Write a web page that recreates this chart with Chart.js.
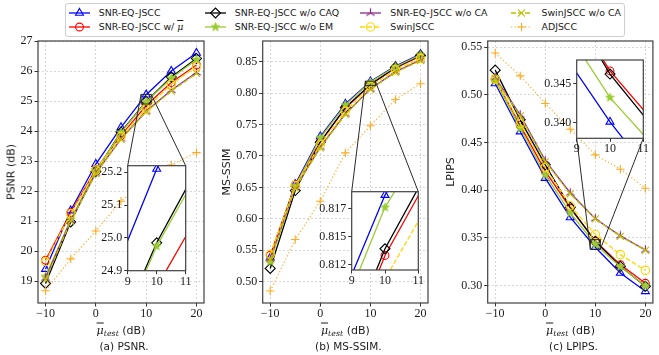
<!DOCTYPE html>
<html>
<head>
<meta charset="utf-8">
<script src="https://cdn.jsdelivr.net/npm/chart.js@4.4.1/dist/chart.umd.min.js"></script>
<style>
  html, body { margin:0; padding:0; background:#ffffff; }
  #wrap { position:relative; width:659px; height:355px; overflow:hidden; background:#fff; font-family:"DejaVu Sans", sans-serif; color:#1a1a1a; }
  #wrap canvas { position:absolute; }
  .txt { position:absolute; white-space:nowrap; line-height:1; z-index:6; }
  .legend { position:absolute; box-sizing:border-box; border:1px solid #cfcfcf; border-radius:3px; background:#fff; z-index:5; }
  .legtxt { position:absolute; white-space:nowrap; font-size:9.4px; line-height:12px; }
  .mu { font-family:"DejaVu Serif", serif; font-style:italic; text-decoration:overline; }
  .sub { font-family:"DejaVu Serif", serif; font-style:italic; font-size:0.72em; position:relative; top:0.3em; }
</style>
</head>
<body>
<div id="wrap"></div>
<script>
// ---------------- data ----------------
const snrTest = [-10, -5, 0, 5, 10, 15, 20];
const seriesNames = ['SNR-EQ-JSCC', 'SNR-EQ-JSCC w/ \u03bc\u0304', 'SNR-EQ-JSCC w/o CAQ', 'SNR-EQ-JSCC w/o EM',
                     'SNR-EQ-JSCC w/o CA', 'SwinJSCC', 'SwinJSCC w/o CA', 'ADJSCC'];

// PSNR (dB)
const psnrEQ       = [19.40, 21.35, 22.90, 24.12, 25.21, 26.00, 26.60];
const psnrMu       = [19.70, 21.28, 22.72, 23.85, 24.85, 25.62, 26.20];
const psnrNoCAQ    = [18.92, 20.97, 22.65, 23.97, 24.985, 25.80, 26.42];
const psnrNoEM     = [19.15, 21.05, 22.68, 23.95, 24.975, 25.76, 26.38];
const psnrNoCA     = [19.10, 21.02, 22.60, 23.74, 24.66, 25.36, 25.95];
const psnrSwin     = [19.65, 21.24, 22.70, 23.82, 24.74, 25.56, 26.15];
const psnrSwinNoCA = [19.05, 21.00, 22.58, 23.72, 24.64, 25.33, 25.92];
const psnrAD       = [18.68, 19.74, 20.67, 21.66, 22.35, 22.87, 23.28];

// MS-SSIM
const msssimEQ       = [0.538, 0.655, 0.731, 0.783, 0.8187, 0.843, 0.862];
const msssimMu       = [0.542, 0.654, 0.723, 0.776, 0.8133, 0.840, 0.859];
const msssimNoCAQ    = [0.521, 0.645, 0.722, 0.777, 0.8139, 0.841, 0.860];
const msssimNoEM     = [0.532, 0.652, 0.729, 0.781, 0.8176, 0.842, 0.861];
const msssimNoCA     = [0.536, 0.650, 0.714, 0.767, 0.8065, 0.834, 0.853];
const msssimSwin     = [0.543, 0.653, 0.718, 0.771, 0.8112, 0.837, 0.855];
const msssimSwinNoCA = [0.535, 0.649, 0.713, 0.766, 0.8060, 0.833, 0.852];
const msssimAD       = [0.485, 0.567, 0.628, 0.705, 0.748, 0.790, 0.815];

// LPIPS
const lpipsEQ       = [0.512, 0.4615, 0.4127, 0.3714, 0.3401, 0.313, 0.2938];
const lpipsMu       = [0.5165, 0.468, 0.420, 0.381, 0.3466, 0.3218, 0.3022];
const lpipsNoCAQ    = [0.526, 0.4738, 0.4266, 0.382, 0.3462, 0.320, 0.299];
const lpipsNoEM     = [0.515, 0.465, 0.416, 0.376, 0.3432, 0.3196, 0.2995];
const lpipsNoCA     = [0.518, 0.479, 0.431, 0.397, 0.370, 0.352, 0.3372];
const lpipsSwin     = [0.5165, 0.470, 0.4238, 0.3836, 0.3535, 0.3323, 0.3158];
const lpipsSwinNoCA = [0.517, 0.478, 0.430, 0.396, 0.3698, 0.3515, 0.3368];
const lpipsAD       = [0.544, 0.520, 0.491, 0.464, 0.437, 0.422, 0.402];

// axes / ticks
const xRange = [-11.5, 21.5];
const xTicks = [-10, 0, 10, 20];
const xTickLabels = ['\u221210', '0', '10', '20'];
const psnrRange = [18.27, 27.0];
const psnrTicks = [19, 20, 21, 22, 23, 24, 25, 26, 27];
const psnrTickLabels = ['19', '20', '21', '22', '23', '24', '25', '26', '27'];
const msssimRange = [0.466, 0.883];
const msssimTicks = [0.50, 0.55, 0.60, 0.65, 0.70, 0.75, 0.80, 0.85];
const msssimTickLabels = ['0.50', '0.55', '0.60', '0.65', '0.70', '0.75', '0.80', '0.85'];
const lpipsRange = [0.2815, 0.5566];
const lpipsTicks = [0.30, 0.35, 0.40, 0.45, 0.50, 0.55];
const lpipsTickLabels = ['0.30', '0.35', '0.40', '0.45', '0.50', '0.55'];

// insets
const insetXRange = [9, 11];
const insetXTicks = [9, 10, 11];
const insetXTickLabels = ['9', '10', '11'];
const psnrInsetRange = [24.9, 25.22];
const psnrInsetTicks = [24.9, 25.0, 25.1, 25.2];
const psnrInsetTickLabels = ['24.9', '25.0', '25.1', '25.2'];
const msssimInsetRange = [0.812, 0.819];
const msssimInsetTicks = [0.8125, 0.815, 0.8175];
const msssimInsetTickLabels = ['0.812', '0.815', '0.817'];
const lpipsInsetRange = [0.338, 0.348];
const lpipsInsetTicks = [0.340, 0.345];
const lpipsInsetTickLabels = ['0.340', '0.345'];

// ---------------- styles ----------------
function makeStar(color, R) {
  const s = 2 * Math.ceil(R) + 3;
  const c = document.createElement('canvas'); c.width = s; c.height = s;
  const g = c.getContext('2d'); g.translate(s / 2, s / 2);
  g.beginPath();
  for (let k = 0; k < 10; k++) {
    const r = (k % 2) ? R * 0.42 : R;
    const a = -Math.PI / 2 + k * Math.PI / 5;
    g.lineTo(r * Math.cos(a), r * Math.sin(a));
  }
  g.closePath(); g.fillStyle = color; g.fill(); g.strokeStyle = color; g.lineWidth = 0.8; g.stroke();
  return c;
}
function makeTri(color, R) {
  const s = 2 * Math.ceil(R) + 3;
  const c = document.createElement('canvas'); c.width = s; c.height = s;
  const g = c.getContext('2d'); g.translate(s / 2, s / 2);
  g.strokeStyle = color; g.lineWidth = 1.2; g.beginPath();
  g.moveTo(0, 0); g.lineTo(0, -R);
  g.moveTo(0, 0); g.lineTo(-0.866 * R, 0.5 * R);
  g.moveTo(0, 0); g.lineTo(0.866 * R, 0.5 * R);
  g.stroke();
  return c;
}
const seriesStyles = [
  { color: '#0000ff', point: 'triangle', r: 4.6, dash: [], width: 1.3 },
  { color: '#ff0000', point: 'circle', r: 3.9, dash: [], width: 1.3 },
  { color: '#000000', point: 'rectRot', r: 5, dash: [], width: 1.3 },
  { color: '#9acd32', point: makeStar('#9acd32', 4.6), r: 4, dash: [], width: 1.3 },
  { color: '#8a2b8a', point: makeTri('#8a2b8a', 4.8), r: 4, dash: [], width: 1.3 },
  { color: '#ffd700', point: 'circle', r: 4.2, dash: [5, 2], width: 1.3 },
  { color: '#bfbf00', point: 'crossRot', r: 5, dash: [5, 2], width: 1.3 },
  { color: '#ffaa22', point: 'cross', r: 4.2, dash: [1.3, 2.2], width: 1.1 }
];

function buildDatasets(seriesArrays) {
  return seriesArrays.map((arr, i) => {
    const st = seriesStyles[i];
    return {
      label: seriesNames[i],
      data: snrTest.map((x, k) => ({ x: x, y: arr[k] })),
      borderColor: st.color, borderWidth: st.width, borderDash: st.dash,
      backgroundColor: 'rgba(0,0,0,0)', fill: false, tension: 0,
      pointStyle: st.point, pointRadius: st.r, pointBorderColor: st.color,
      pointBackgroundColor: 'rgba(0,0,0,0)', pointBorderWidth: 1.1,
      order: seriesArrays.length - i
    };
  });
}

function axisOpts(range, ticks, labels, grid, isX, size, pad) {
  return {
    type: 'linear', bounds: 'data', min: range[0], max: range[1],
    afterBuildTicks: s => { s.ticks = ticks.map(v => ({ value: v })); },
    afterFit: s => { if (isX) s.height = size; else s.width = size; },
    grid: { display: true, drawOnChartArea: grid, color: '#cdcdcd', lineWidth: 0.8,
            drawTicks: true, tickLength: 3.5, tickColor: '#333333', tickWidth: 1 },
    border: { display: false, dash: [2, 2] },
    ticks: { autoSkip: false, maxRotation: 0, minRotation: 0, padding: pad, color: '#1a1a1a',
             font: { family: '"Liberation Serif", serif', size: 12 },
             callback: (v, i) => labels[i] }
  };
}

function makePanelPlugin(o) {
  return {
    id: 'panelDeco',
    beforeDraw(chart) {
      if (!o.whiteBg) return;
      const a = chart.chartArea, ctx = chart.ctx;
      ctx.save(); ctx.fillStyle = '#ffffff';
      ctx.fillRect(a.left, a.top, a.right - a.left, a.bottom - a.top); ctx.restore();
    },
    afterDatasetsDraw(chart) {
      if (!o.zoom) return;
      const ins = o.zoom.chart, ctx = chart.ctx;
      const sx = chart.scales.x, sy = chart.scales.y;
      const rx0 = sx.getPixelForValue(ins.scales.x.min), rx1 = sx.getPixelForValue(ins.scales.x.max);
      const ry0 = sy.getPixelForValue(ins.scales.y.max), ry1 = sy.getPixelForValue(ins.scales.y.min);
      const dx = o.zoom.canvas.x - o.canvas.x, dy = o.zoom.canvas.y - o.canvas.y;
      const ia = ins.chartArea;
      const pts = {
        tl: [[rx0, ry0], [ia.left + dx, ia.top + dy]],
        tr: [[rx1, ry0], [ia.right + dx, ia.top + dy]],
        bl: [[rx0, ry1], [ia.left + dx, ia.bottom + dy]],
        br: [[rx1, ry1], [ia.right + dx, ia.bottom + dy]]
      };
      ctx.save(); ctx.strokeStyle = '#2a2a2a'; ctx.lineWidth = 1; ctx.setLineDash([]);
      ctx.strokeRect(rx0, ry0, rx1 - rx0, ry1 - ry0);
      ctx.beginPath();
      o.zoom.corners.forEach(k => { ctx.moveTo(pts[k][0][0], pts[k][0][1]); ctx.lineTo(pts[k][1][0], pts[k][1][1]); });
      ctx.stroke(); ctx.restore();
    },
    afterDraw(chart) {
      const a = chart.chartArea, ctx = chart.ctx;
      ctx.save(); ctx.strokeStyle = '#404040'; ctx.lineWidth = 1.2; ctx.setLineDash([]);
      ctx.strokeRect(a.left, a.top, a.right - a.left, a.bottom - a.top); ctx.restore();
    }
  };
}

const wrap = document.getElementById('wrap');

function mkChart(o) {
  const c = document.createElement('canvas');
  c.width = o.canvas.w; c.height = o.canvas.h;
  Object.assign(c.style, { left: o.canvas.x + 'px', top: o.canvas.y + 'px',
    width: o.canvas.w + 'px', height: o.canvas.h + 'px', zIndex: o.z });
  wrap.appendChild(c);
  const pad = {
    left: o.area.l - o.canvas.x - o.yW,
    right: o.canvas.x + o.canvas.w - o.area.r,
    top: o.area.t - o.canvas.y,
    bottom: o.canvas.y + o.canvas.h - o.area.b - o.xH
  };
  return new Chart(c, {
    type: 'line',
    data: { datasets: buildDatasets(o.series) },
    options: {
      responsive: false, maintainAspectRatio: false, animation: false, events: [], devicePixelRatio: 1,
      layout: { padding: pad },
      plugins: { legend: { display: false }, tooltip: { enabled: false }, title: { display: false } },
      scales: {
        x: axisOpts(o.xRange, o.xTicks, o.xLabels, o.grid, true, o.xH, o.xPad),
        y: axisOpts(o.yRange, o.yTicks, o.yLabels, o.grid, false, o.yW, 2)
      }
    },
    plugins: [makePanelPlugin(o)]
  });
}

// ---------------- panels ----------------
const panels = [
  { series: [psnrEQ, psnrMu, psnrNoCAQ, psnrNoEM, psnrNoCA, psnrSwin, psnrSwinNoCA, psnrAD],
    yRange: psnrRange, yTicks: psnrTicks, yLabels: psnrTickLabels,
    inY: psnrInsetRange, inYTicks: psnrInsetTicks, inYLabels: psnrInsetTickLabels,
    canvas: { x: 0, y: 0, w: 215, h: 355 }, area: { l: 38, t: 41, r: 204, b: 303 }, yW: 38,
    inCanvas: { x: 94, y: 156, w: 100, h: 132 }, inArea: { l: 127.7, t: 165.7, r: 185.7, b: 270.7 }, inYW: 30,
    corners: ['tl', 'tr'], ytitle: 'PSNR (dB)', ytitleX: 11, caption: '(a) PSNR.' },
  { series: [msssimEQ, msssimMu, msssimNoCAQ, msssimNoEM, msssimNoCA, msssimSwin, msssimSwinNoCA, msssimAD],
    yRange: msssimRange, yTicks: msssimTicks, yLabels: msssimTickLabels,
    inY: msssimInsetRange, inYTicks: msssimInsetTicks, inYLabels: msssimInsetTickLabels,
    canvas: { x: 215, y: 0, w: 225, h: 355 }, area: { l: 262.7, t: 41, r: 428, b: 303 }, yW: 40,
    inCanvas: { x: 312, y: 182, w: 116, h: 108 }, inArea: { l: 351.7, t: 191.7, r: 418.3, b: 270 }, inYW: 36,
    corners: ['tl', 'tr'], ytitle: 'MS-SSIM', ytitleX: 226, caption: '(b) MS-SSIM.' },
  { series: [lpipsEQ, lpipsMu, lpipsNoCAQ, lpipsNoEM, lpipsNoCA, lpipsSwin, lpipsSwinNoCA, lpipsAD],
    yRange: lpipsRange, yTicks: lpipsTicks, yLabels: lpipsTickLabels,
    inY: lpipsInsetRange, inYTicks: lpipsInsetTicks, inYLabels: lpipsInsetTickLabels,
    canvas: { x: 440, y: 0, w: 219, h: 355 }, area: { l: 487.7, t: 41, r: 653.3, b: 303 }, yW: 40,
    inCanvas: { x: 537, y: 50, w: 116, h: 106 }, inArea: { l: 576.7, t: 60, r: 643.3, b: 138.3 }, inYW: 36,
    corners: ['bl', 'br'], ytitle: 'LPIPS', ytitleX: 450, caption: '(c) LPIPS.' }
];

panels.forEach(p => {
  const insetCfg = {
    series: p.series, xRange: insetXRange, xTicks: insetXTicks, xLabels: insetXTickLabels,
    yRange: p.inY, yTicks: p.inYTicks, yLabels: p.inYLabels,
    canvas: p.inCanvas, area: p.inArea, yW: p.inYW, xH: 15, xPad: 0, grid: false, whiteBg: true, z: 3
  };
  const inset = mkChart(insetCfg);
  mkChart({
    series: p.series, xRange: xRange, xTicks: xTicks, xLabels: xTickLabels,
    yRange: p.yRange, yTicks: p.yTicks, yLabels: p.yLabels,
    canvas: p.canvas, area: p.area, yW: p.yW, xH: 20, xPad: 0, grid: true, whiteBg: false, z: 1,
    zoom: { chart: inset, canvas: p.inCanvas, corners: p.corners }
  });
  const cx = (p.area.l + p.area.r) / 2;
  // x title
  const xt = document.createElement('div'); xt.className = 'txt';
  xt.innerHTML = '<span class="mu">\u03bc</span><span class="sub">test</span> (dB)';
  Object.assign(xt.style, { left: cx + 'px', top: '330px', fontSize: '11px', transform: 'translate(-50%,-50%)' });
  wrap.appendChild(xt);
  // caption
  const cp = document.createElement('div'); cp.className = 'txt'; cp.textContent = p.caption;
  Object.assign(cp.style, { left: (cx + 3) + 'px', top: '346px', fontSize: '10.5px', transform: 'translate(-50%,-50%)' });
  wrap.appendChild(cp);
  // y title
  const yt = document.createElement('div'); yt.className = 'txt'; yt.textContent = p.ytitle;
  Object.assign(yt.style, { left: p.ytitleX + 'px', top: ((p.area.t + p.area.b) / 2) + 'px', fontSize: '11px',
    transform: 'translate(-50%,-50%) rotate(-90deg)' });
  wrap.appendChild(yt);
});

// ---------------- legend ----------------
const legBox = { x: 65, y: 3, w: 560, h: 33.5 };
const legLineX = [68.7, 204.7, 360.3, 511];
const legTextX = [98.7, 234.7, 390.3, 541.5];
const legRowY = [12.5, 27];
const leg = document.createElement('div'); leg.className = 'legend';
Object.assign(leg.style, { left: legBox.x + 'px', top: legBox.y + 'px', width: legBox.w + 'px', height: legBox.h + 'px' });
wrap.appendChild(leg);

function drawMarker(ctx, st, x, y) {
  const p = st.point;
  ctx.save(); ctx.strokeStyle = st.color; ctx.lineWidth = 1.1; ctx.setLineDash([]);
  if (typeof p !== 'string') { ctx.drawImage(p, x - p.width / 2, y - p.height / 2); ctx.restore(); return; }
  const r = st.r; ctx.beginPath();
  if (p === 'circle') ctx.arc(x, y, r, 0, Math.PI * 2);
  else if (p === 'triangle') { ctx.moveTo(x, y - r); ctx.lineTo(x + r * 0.866, y + r / 2); ctx.lineTo(x - r * 0.866, y + r / 2); ctx.closePath(); }
  else if (p === 'rectRot') { ctx.moveTo(x - r, y); ctx.lineTo(x, y - r); ctx.lineTo(x + r, y); ctx.lineTo(x, y + r); ctx.closePath(); }
  else if (p === 'cross') { ctx.moveTo(x, y - r); ctx.lineTo(x, y + r); ctx.moveTo(x - r, y); ctx.lineTo(x + r, y); }
  else if (p === 'crossRot') { const d = r * 0.7071; ctx.moveTo(x - d, y - d); ctx.lineTo(x + d, y + d); ctx.moveTo(x + d, y - d); ctx.lineTo(x - d, y + d); }
  ctx.stroke(); ctx.restore();
}

seriesNames.forEach((name, i) => {
  const col = Math.floor(i / 2), row = i % 2, st = seriesStyles[i];
  const ic = document.createElement('canvas'); ic.width = 26; ic.height = 14;
  Object.assign(ic.style, { left: (legLineX[col] - 1 - legBox.x - 1) + 'px', top: (legRowY[row] - 7 - legBox.y - 1) + 'px' });
  leg.appendChild(ic);
  const g = ic.getContext('2d');
  g.strokeStyle = st.color; g.lineWidth = st.width; g.setLineDash(st.dash);
  g.beginPath(); g.moveTo(1, 7); g.lineTo(22, 7); g.stroke();
  drawMarker(g, st, 11.5, 7);
  const t = document.createElement('div'); t.className = 'legtxt';
  t.innerHTML = name.replace('\u03bc\u0304', '<span class="mu">\u03bc</span>');
  Object.assign(t.style, { left: (legTextX[col] - legBox.x - 1) + 'px', top: (legRowY[row] - 6 - legBox.y - 1) + 'px' });
  leg.appendChild(t);
});
</script>
</body>
</html>
